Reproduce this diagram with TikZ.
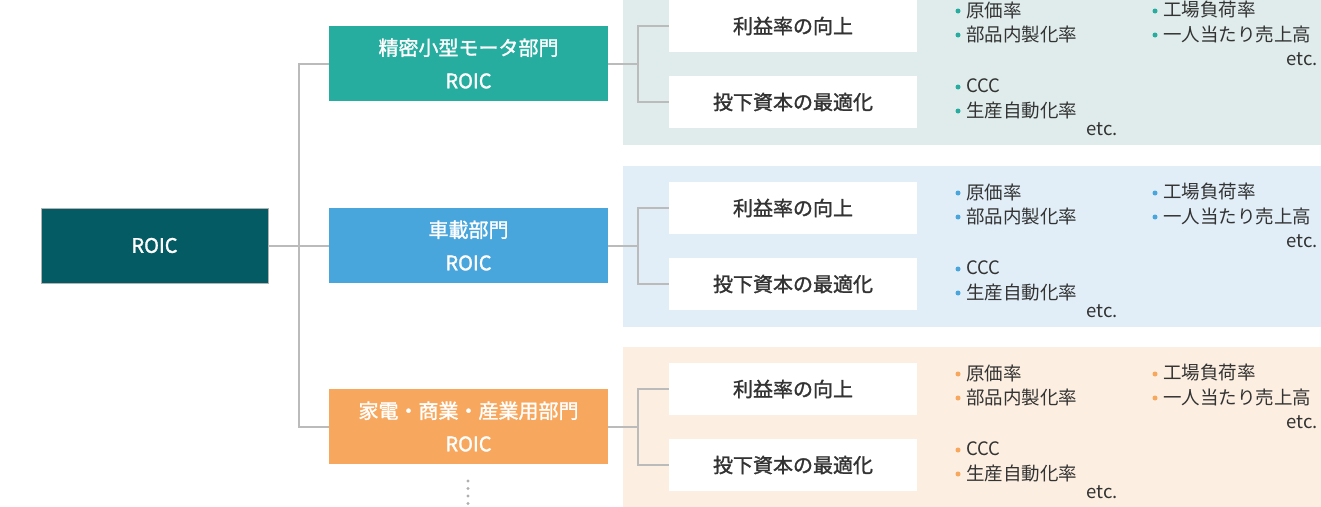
\documentclass[tikz,border=0pt]{standalone}
\usepackage{fontspec}
\setmainfont{Noto Sans CJK JP}
\newfontfamily\medfont[FakeBold=1.4]{Noto Sans CJK JP}
\usetikzlibrary{positioning, calc}

\definecolor{roicdark}{HTML}{055B63}
\definecolor{unitteal}{HTML}{26AD9F}
\definecolor{unitblue}{HTML}{48A6DC}
\definecolor{unitorange}{HTML}{F8A85E}
\definecolor{panelteal}{HTML}{DFECEB}
\definecolor{panelblue}{HTML}{E1EEF8}
\definecolor{panelorange}{HTML}{FCEEE0}
\definecolor{linegray}{HTML}{BBBBBB}
\definecolor{textgray}{HTML}{333333}

\begin{document}
\begin{tikzpicture}[x=1pt, y=-1pt,
    every node/.style={font=\fontsize{20}{22}\selectfont\medfont, text=textgray},
    unit/.style={minimum width=279pt, minimum height=75pt, inner sep=0, text=white, align=center},
    item/.style={fill=white, minimum width=248pt, minimum height=52pt, inner sep=0},
    kpi/.style={anchor=west, inner sep=0, font=\fontsize{18.5}{20}\selectfont},
    link/.style={draw=linegray, line width=2pt},
]
    \useasboundingbox (0,0) rectangle (1321,506);

    \node[fill=roicdark, draw=gray!60, line width=1pt, minimum width=227pt, minimum height=75pt, text=white] (roic) at (154.5,245.5) {ROIC};

    \foreach \i/\y/\c/\bg/\name in {1/0/unitteal/panelteal/{精密小型モータ部門},
                                    2/182/unitblue/panelblue/{車載部門},
                                    3/363/unitorange/panelorange/{家電・商業・産業用部門}} {
        \fill[\bg] (623,{\y-16}) rectangle (1321,{\y+145});
        \node[unit, fill=\c] (u\i) at (468.5,{63.5+\y}) {\name\\[11pt]ROIC};
        \node[item] (p\i) at (793,{26+\y}) {利益率の向上};
        \node[item] (c\i) at (793,{102+\y}) {投下資本の最適化};
        \draw[link] (u\i.east) -- ++(30,0) |- (p\i.west);
        \draw[link] (u\i.east) ++(30,0) |- (c\i.west);
        % indicators
        \foreach \x/\yy/\t in {958/10/原価率, 958/34/部品内製化率, 1155/10/工場負荷率,
                               1155/34/一人当たり売上高, 958/86/CCC, 958/110/生産自動化率} {
            \fill[\c] (\x,{\yy+\y+1}) circle (2.5);
            \node[kpi] at (\x+8,{\yy+\y}) {\t};
        }
        \node[kpi, anchor=east] at (1318,{59+\y}) {etc.};
        \node[kpi, anchor=east] at (1118,{129+\y}) {etc.};
    }

    \draw[link] (roic.east) -- (u2.west);
    \draw[link] (u1.west) -- ++(-30,0) |- (u3.west);

    \foreach \d in {0,1,2,3}
        \fill[linegray!80!gray] (468,{481+\d*7.5}) circle (1.6);
\end{tikzpicture}
\end{document}
